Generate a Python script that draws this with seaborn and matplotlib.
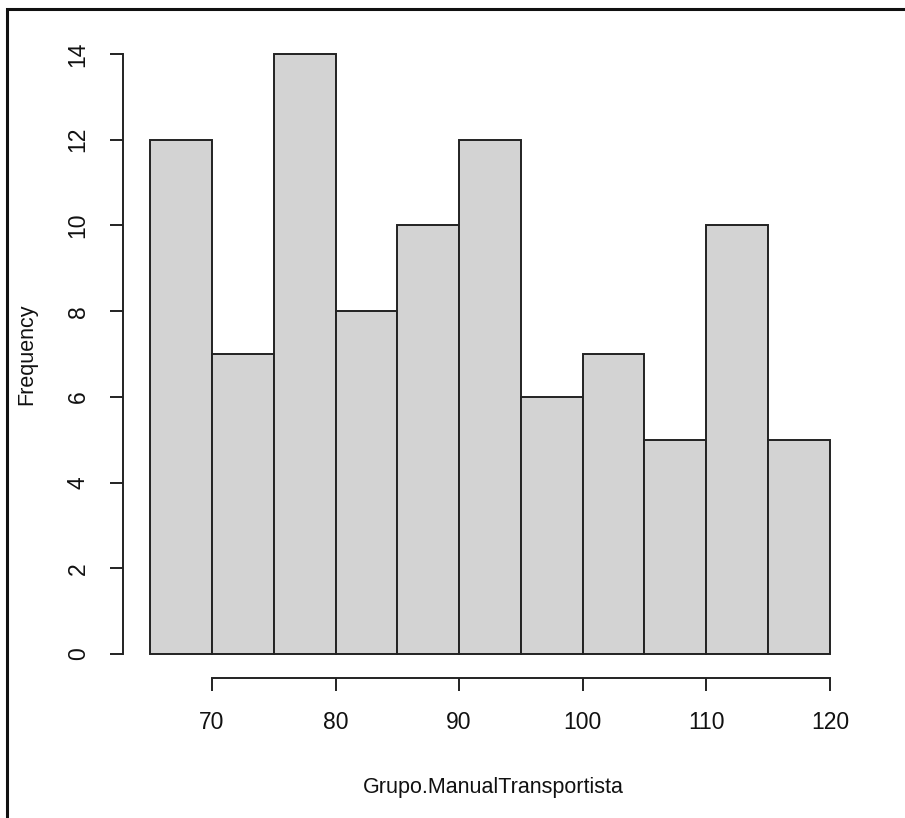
import matplotlib
matplotlib.use("Agg")
import matplotlib.pyplot as plt
from matplotlib.patches import Rectangle
import numpy as np
import seaborn as sns

# Histogram bins (left edges, width 5) and their frequencies
bin_edges = [65, 70, 75, 80, 85, 90, 95, 100, 105, 110, 115, 120]
counts = [12, 7, 14, 8, 10, 12, 6, 7, 5, 10, 5]
x_ticks = [70, 80, 90, 100, 110, 120]
y_ticks = [0, 2, 4, 6, 8, 10, 12, 14]

sns.set_style("white")
plt.rcParams["font.family"] = ["Liberation Sans", "DejaVu Sans"]

W, H = 905, 818
fig = plt.figure(figsize=(W / 100, H / 100), dpi=100)
# plot region in pixels: x 123..857, y 30..678 (from top)
ax = fig.add_axes([123 / W, 1 - 678 / H, (857 - 123) / W, (678 - 30) / H])

centers = [(a + b) / 2 for a, b in zip(bin_edges[:-1], bin_edges[1:])]
sns.histplot(x=centers, weights=counts, bins=bin_edges, ax=ax,
             color="#D3D3D3", edgecolor="#222222", linewidth=1.4, alpha=1)

ax.set_xlim(62.8, 122.2)
ax.set_ylim(-0.56, 14.56)

for s in ["top", "right"]:
    ax.spines[s].set_visible(False)
for s in ["left", "bottom"]:
    ax.spines[s].set_color("#222222")
    ax.spines[s].set_linewidth(1.4)
ax.spines["left"].set_bounds(0, 14)
ax.spines["bottom"].set_bounds(70, 120)

ax.set_xticks(x_ticks)
ax.set_yticks(y_ticks)
ax.set_yticklabels([str(v) for v in y_ticks], rotation=90, va="center")
ax.tick_params(axis="both", which="major", direction="out", length=9.5,
               width=1.4, color="#222222", labelsize=16.5, labelcolor="#111111",
               bottom=True, left=True)
ax.tick_params(axis="x", pad=14)
ax.tick_params(axis="y", pad=14.5)

ax.set_xlabel("Grupo.ManualTransportista", fontsize=15.5, color="#111111")
ax.set_ylabel("Frequency", fontsize=15.5, color="#111111")
ax.xaxis.set_label_coords(0.505, -0.153)
ax.yaxis.set_label_coords(-0.117, 0.5)
ax.grid(False)

# frame around the image (left and top edges visible)
fig.patches.append(Rectangle((7 / W, -0.1), 1.2, 1.1 - 9 / H + 0.0,
                             transform=fig.transFigure, fill=False,
                             edgecolor="#111111", linewidth=2.2))

fig.savefig("out.png", dpi=100)
